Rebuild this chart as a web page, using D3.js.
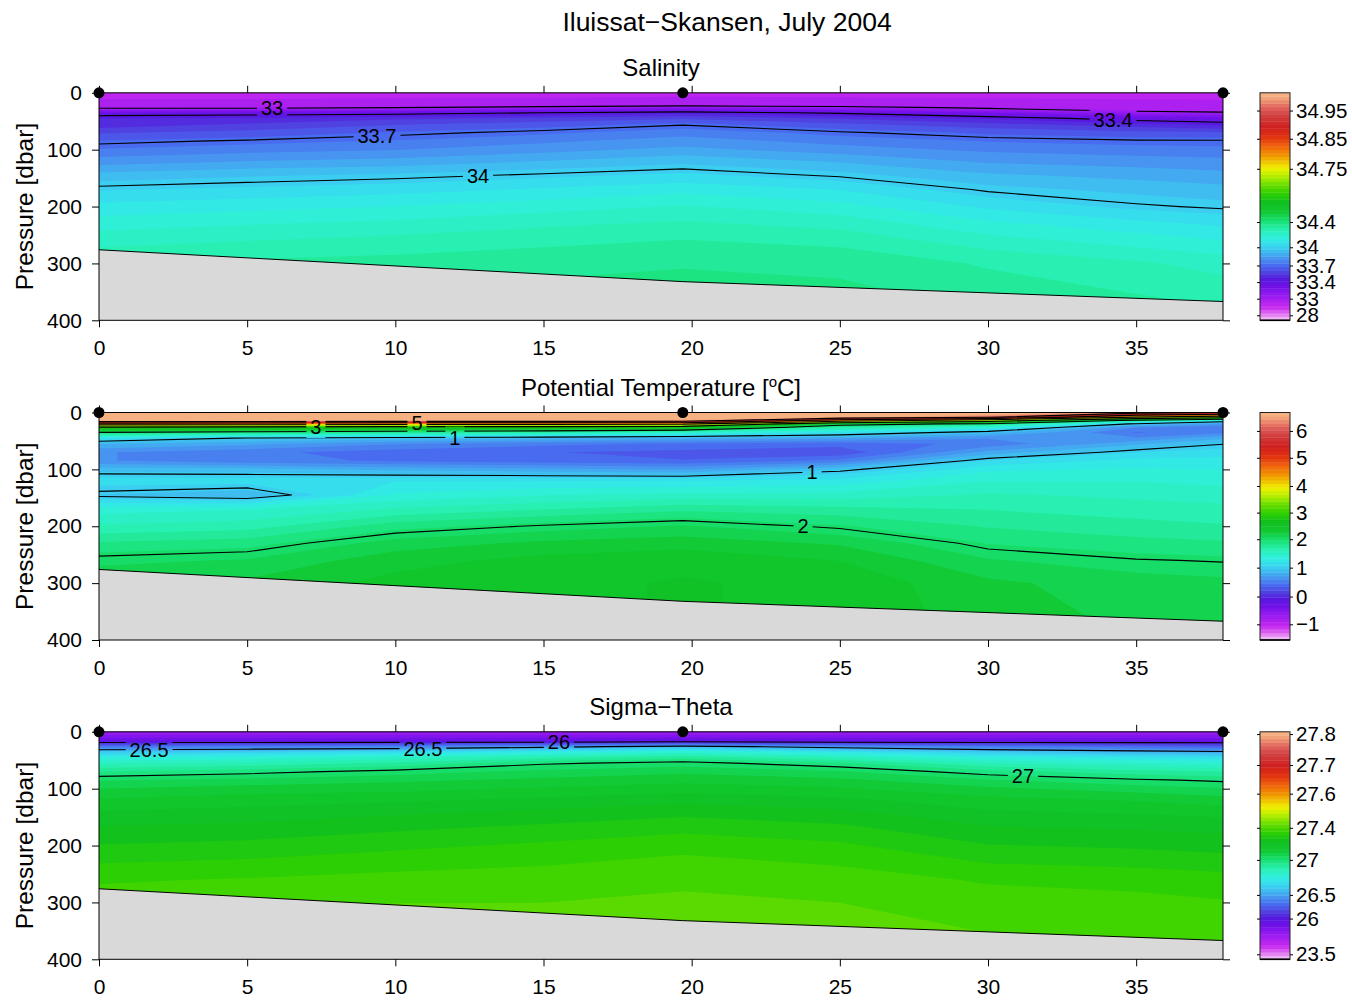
<!DOCTYPE html>
<html>
<head>
<meta charset="utf-8">
<script src="https://cdn.jsdelivr.net/npm/d3@7"></script>
<style>
  body { margin: 0; background: #fff; }
  svg { display: block; }
  text { font-family: "Liberation Sans", Arial, Helvetica, sans-serif; fill: #000; }
</style>
</head>
<body>
<svg id="fig" width="1352" height="1001"></svg>
<script>
// ---------------------------------------------------------------------------
// Section geometry: along-track distance of each gridded profile (km),
// pressure levels of the grid (dbar), CTD stations and the sea floor.
// ---------------------------------------------------------------------------
const gridDistance = [0, 5, 10, 15, 19.7, 25, 30, 35, 37.93];
const gridPressure = [0, 8, 14, 20, 26, 35, 45, 55, 70, 85, 100, 120, 145, 170, 200, 230, 260, 300, 380];
const stationDistance = [0, 19.7, 37.93];
const bottomPressure = [276, 332, 367];

const distanceTicks = [0, 5, 10, 15, 20, 25, 30, 35];
const pressureTicks = [0, 100, 200, 300, 400];

// Salinity profiles, one per gridDistance entry, values at gridPressure
const salinity = [
  [31.5, 31.7, 32.0, 32.5, 32.95, 33.32, 33.48, 33.5, 33.6, 33.68, 33.74, 33.82, 33.93, 34.02, 34.1, 34.17, 34.23, 34.3, 34.35],
  [31.5, 31.7, 32.0, 32.5, 32.95, 33.33, 33.5, 33.55, 33.63, 33.71, 33.77, 33.85, 33.96, 34.04, 34.12, 34.19, 34.25, 34.32, 34.37],
  [31.5, 31.75, 32.1, 32.6, 33.0, 33.35, 33.53, 33.6, 33.68, 33.74, 33.79, 33.87, 33.98, 34.06, 34.14, 34.21, 34.27, 34.33, 34.37],
  [31.5, 31.8, 32.2, 32.75, 33.1, 33.4, 33.56, 33.64, 33.72, 33.78, 33.83, 33.91, 34.01, 34.09, 34.17, 34.24, 34.29, 34.35, 34.39],
  [31.5, 31.9, 32.35, 32.85, 33.15, 33.45, 33.6, 33.69, 33.77, 33.82, 33.87, 33.95, 34.04, 34.12, 34.2, 34.26, 34.31, 34.36, 34.39],
  [31.5, 31.85, 32.3, 32.8, 33.1, 33.38, 33.54, 33.62, 33.71, 33.77, 33.82, 33.9, 33.99, 34.08, 34.16, 34.23, 34.29, 34.35, 34.39],
  [31.5, 31.75, 32.05, 32.5, 32.95, 33.25, 33.47, 33.56, 33.66, 33.73, 33.78, 33.84, 33.92, 33.99, 34.07, 34.15, 34.22, 34.3, 34.36],
  [31.5, 31.7, 31.95, 32.3, 32.7, 33.12, 33.34, 33.5, 33.63, 33.71, 33.76, 33.82, 33.89, 33.95, 34.01, 34.1, 34.17, 34.26, 34.33],
  [31.5, 31.7, 31.9, 32.25, 32.6, 33.05, 33.3, 33.45, 33.62, 33.71, 33.75, 33.81, 33.87, 33.93, 33.99, 34.07, 34.14, 34.23, 34.31]
];

// Potential temperature profiles (degC)
const temperature = [
  [7.0, 6.95, 6.7, 4.5, 2.9, 2.0, 1.2, 0.85, 0.6, 0.6, 0.9, 1.15, 0.95, 1.4, 1.6, 1.85, 2.05, 2.2, 2.2],
  [7.0, 6.95, 6.7, 4.4, 2.8, 1.9, 0.98, 0.75, 0.5, 0.5, 0.88, 1.15, 0.85, 1.45, 1.65, 1.9, 2.1, 2.25, 2.25],
  [7.0, 6.95, 6.6, 4.3, 2.7, 1.8, 0.9, 0.6, 0.4, 0.45, 0.8, 1.2, 1.35, 1.6, 1.9, 2.15, 2.3, 2.4, 2.4],
  [7.0, 6.95, 6.6, 4.3, 2.7, 1.7, 0.85, 0.5, 0.35, 0.4, 0.75, 1.2, 1.45, 1.7, 2.02, 2.25, 2.4, 2.45, 2.45],
  [7.0, 6.95, 6.5, 4.2, 2.6, 1.5, 0.8, 0.45, 0.3, 0.35, 0.7, 1.2, 1.5, 1.8, 2.1, 2.3, 2.45, 2.5, 2.5],
  [7.0, 6.7, 4.5, 2.2, 1.7, 1.2, 0.75, 0.4, 0.25, 0.5, 0.95, 1.25, 1.5, 1.75, 1.97, 2.2, 2.35, 2.45, 2.45],
  [6.9, 6.2, 3.5, 1.9, 1.4, 0.9, 0.6, 0.5, 0.75, 1.1, 1.3, 1.45, 1.6, 1.7, 1.82, 1.95, 2.1, 2.25, 2.3],
  [6.3, 4.0, 1.8, 0.95, 0.6, 0.45, 0.6, 0.8, 1.08, 1.25, 1.35, 1.45, 1.55, 1.65, 1.75, 1.88, 2.01, 2.15, 2.2],
  [6.0, 3.5, 1.2, 0.7, 0.5, 0.55, 0.8, 0.99, 1.15, 1.25, 1.33, 1.42, 1.52, 1.62, 1.72, 1.85, 1.99, 2.12, 2.18]
];

// Potential density anomaly profiles (kg m^-3)
const sigmaTheta = [
  [25.0, 25.2, 25.6, 26.1, 26.35, 26.6, 26.75, 26.84, 26.95, 27.04, 27.09, 27.14, 27.19, 27.23, 27.27, 27.31, 27.35, 27.38, 27.4],
  [25.0, 25.2, 25.6, 26.1, 26.37, 26.62, 26.77, 26.86, 26.98, 27.06, 27.11, 27.16, 27.2, 27.24, 27.28, 27.32, 27.36, 27.39, 27.41],
  [25.0, 25.2, 25.6, 26.12, 26.4, 26.66, 26.82, 26.91, 27.02, 27.08, 27.12, 27.17, 27.22, 27.26, 27.3, 27.34, 27.37, 27.4, 27.41],
  [25.0, 25.2, 25.65, 26.15, 26.46, 26.72, 26.88, 26.99, 27.06, 27.1, 27.14, 27.19, 27.24, 27.28, 27.32, 27.35, 27.38, 27.4, 27.42],
  [25.0, 25.2, 25.7, 26.2, 26.55, 26.78, 26.93, 27.02, 27.08, 27.12, 27.16, 27.21, 27.26, 27.3, 27.34, 27.37, 27.39, 27.41, 27.42],
  [25.0, 25.2, 25.65, 26.15, 26.44, 26.7, 26.85, 26.96, 27.05, 27.1, 27.14, 27.19, 27.24, 27.28, 27.32, 27.35, 27.38, 27.4, 27.42],
  [25.0, 25.2, 25.6, 26.1, 26.36, 26.6, 26.75, 26.85, 26.97, 27.05, 27.1, 27.15, 27.19, 27.23, 27.27, 27.31, 27.35, 27.38, 27.41],
  [25.0, 25.2, 25.6, 26.08, 26.3, 26.54, 26.7, 26.8, 26.92, 27.01, 27.07, 27.13, 27.18, 27.22, 27.26, 27.3, 27.34, 27.37, 27.4],
  [25.0, 25.2, 25.55, 26.05, 26.27, 26.51, 26.68, 26.78, 26.9, 26.99, 27.05, 27.11, 27.17, 27.21, 27.25, 27.29, 27.33, 27.36, 27.39]
];

// Colour-bar tick labels
const salinityTicks = [28, 33, 33.4, 33.7, 34, 34.4, 34.75, 34.85, 34.95];
const temperatureTicks = [-1, 0, 1, 2, 3, 4, 5, 6];
const sigmaTicks = [23.5, 26, 26.5, 27, 27.4, 27.6, 27.7, 27.8];

// Stretched colour axes: field value -> fraction of the way up the colour bar
const salinityColourValues   = [27.5, 28, 33, 33.4, 33.7, 34, 34.4, 34.75, 34.85, 34.95, 35.01];
const salinityColourFraction = [0, 0.022, 0.095, 0.168, 0.241, 0.321, 0.432, 0.666, 0.798, 0.922, 1];
const temperatureColourValues   = [-1.57, -1, 0, 1, 2, 3, 4, 5, 6, 6.69];
const temperatureColourFraction = [0, 0.069, 0.191, 0.318, 0.443, 0.56, 0.677, 0.801, 0.919, 1];
const sigmaColourValues   = [23.3, 23.5, 26, 26.5, 27, 27.4, 27.6, 27.7, 27.8, 27.81];
const sigmaColourFraction = [0, 0.022, 0.179, 0.283, 0.437, 0.578, 0.728, 0.854, 0.99, 1];

// Black isolines
const salinityLines = [33, 33.4, 33.7, 34];
const temperatureLines = [1, 2, 3, 4, 5, 6];
const sigmaLines = [26, 26.5, 27];

// Inline isoline labels: level, along-track km, approximate pressure of the line there
const salinityLabelSpots = [
  { level: 33, km: 5.84, near: 25 }, { level: 33.7, km: 9.38, near: 75 },
  { level: 34, km: 12.79, near: 148 }, { level: 33.4, km: 34.22, near: 48 }
];
const temperatureLabelSpots = [
  { level: 3, km: 7.32, near: 25 }, { level: 5, km: 10.73, near: 18 },
  { level: 1, km: 12.01, near: 42 }, { level: 1, km: 24.06, near: 107 },
  { level: 2, km: 23.76, near: 200 }
];
const sigmaLabelSpots = [
  { level: 26.5, km: 1.69, near: 30 }, { level: 26.5, km: 10.93, near: 28 },
  { level: 26, km: 15.52, near: 18 }, { level: 27, km: 31.18, near: 78 }
];

// Rainbow colour map (fraction along the bar -> colour)
const colourStops = [
  [0, "#f4d0f8"], [0.03, "#e070f0"], [0.06, "#c828f0"], [0.09, "#a820f0"], [0.12, "#9018f0"],
  [0.15, "#7010e8"], [0.18, "#5818e0"], [0.21, "#5040e0"], [0.24, "#4868f0"], [0.27, "#4890f0"],
  [0.30, "#40b8f0"], [0.33, "#38d8f0"], [0.36, "#30f0e0"], [0.40, "#28f0b0"], [0.44, "#18e070"],
  [0.48, "#10c830"], [0.52, "#10c020"], [0.56, "#30d000"], [0.60, "#70e000"], [0.64, "#c0f000"],
  [0.67, "#f0f000"], [0.70, "#f0c000"], [0.73, "#f09000"], [0.77, "#f06010"], [0.81, "#e03010"],
  [0.85, "#d02020"], [0.89, "#d03838"], [0.92, "#d85050"], [0.95, "#e87868"], [0.975, "#f0a078"],
  [1, "#f8b888"]
];

// ---------------------------------------------------------------------------
const W = 1352, H = 1001;
const plotLeft = 99, plotRight = 1223, plotH = 227.5;
const panelTop = [92.8, 412.5, 731.8];
const barLeft = 1260, barWidth = 30;
const N_BANDS = 64;
const FONT = '"Liberation Sans", Arial, Helvetica, sans-serif';

const svg = d3.select("#fig");
const defs = svg.append("defs");

const x = d3.scaleLinear()
  .domain([0, stationDistance[stationDistance.length - 1]])
  .range([plotLeft, plotRight]);
const colToKm = d3.scaleLinear().domain(d3.range(gridDistance.length)).range(gridDistance);
const rowToDbar = d3.scaleLinear().domain(d3.range(gridPressure.length)).range(gridPressure);
const colour = d3.scaleLinear()
  .domain(colourStops.map(d => d[0]))
  .range(colourStops.map(d => d[1]))
  .interpolate(d3.interpolateRgb)
  .clamp(true);

const panels = [
  { title: "Salinity", columns: salinity, ticks: salinityTicks,
    cv: salinityColourValues, cf: salinityColourFraction,
    lines: salinityLines, labels: salinityLabelSpots },
  { title: "Potential Temperature", columns: temperature, ticks: temperatureTicks,
    cv: temperatureColourValues, cf: temperatureColourFraction,
    lines: temperatureLines, labels: temperatureLabelSpots },
  { title: "Sigma\u2212Theta", columns: sigmaTheta, ticks: sigmaTicks,
    cv: sigmaColourValues, cf: sigmaColourFraction,
    lines: sigmaLines, labels: sigmaLabelSpots }
];

const fmt = v => String(v).replace("-", "\u2212");
const r1 = v => Math.round(v * 10) / 10;

// Split the closed rings returned by d3.contours into open isolines,
// dropping the pieces that run along the edge of the grid.
function isolines(values, n, m, level, toPx) {
  const c = d3.contours().size([n, m]).thresholds([level])(values)[0];
  const out = [];
  c.coordinates.forEach(poly => poly.forEach(ring => {
    const pts = ring.map(toPx);
    let cur = [];
    for (let k = 0; k < pts.length - 1; k++) {
      const a = pts[k], b = pts[k + 1];
      const onEdge = (a[2] === 0 && b[2] === 0) || (a[2] === n - 1 && b[2] === n - 1) ||
                     (a[3] === 0 && b[3] === 0) || (a[3] === m - 1 && b[3] === m - 1);
      if (onEdge) {
        if (cur.length > 1) out.push(cur);
        cur = [];
      } else {
        if (!cur.length) cur.push([a[0], a[1]]);
        cur.push([b[0], b[1]]);
      }
    }
    if (cur.length > 1) out.push(cur);
  }));
  return out;
}

function yOnLines(polylines, px0, py0) {
  let best = null;
  polylines.forEach(pl => {
    for (let k = 0; k < pl.length - 1; k++) {
      const a = pl[k], b = pl[k + 1];
      if (a[0] === b[0]) continue;
      if ((a[0] - px0) * (b[0] - px0) <= 0) {
        const t = (px0 - a[0]) / (b[0] - a[0]);
        const yy = a[1] + t * (b[1] - a[1]);
        if (best === null || Math.abs(yy - py0) < Math.abs(best - py0)) best = yy;
      }
    }
  });
  return best === null ? py0 : best;
}

panels.forEach((cfg, idx) => {
  const top = panelTop[idx];
  const y = d3.scaleLinear().domain([0, 400]).range([top, top + plotH]);
  const n = gridDistance.length, m = gridPressure.length;
  const values = new Array(n * m);
  for (let j = 0; j < m; j++) for (let i = 0; i < n; i++) values[j * n + i] = cfg.columns[i][j];

  const toFrac = d3.scaleLinear().domain(cfg.cv).range(cfg.cf).clamp(true);

  // grid-contour coordinates -> pixel coordinates (plus grid indices for edge tests)
  const toPx = ([cx, cy]) => {
    const gi = Math.max(0, Math.min(n - 1, cx - 0.5));
    const gj = Math.max(0, Math.min(m - 1, cy - 0.5));
    return [r1(x(colToKm(gi))), r1(y(rowToDbar(gj))), gi, gj];
  };

  const clipId = "plotclip" + idx;
  defs.append("clipPath").attr("id", clipId).append("rect")
    .attr("x", plotLeft).attr("y", top).attr("width", plotRight - plotLeft).attr("height", plotH);

  const g = svg.append("g");

  // ---- filled colour bands
  const fills = g.append("g").attr("clip-path", `url(#${clipId})`);
  fills.append("rect")
    .attr("x", plotLeft).attr("y", top).attr("width", plotRight - plotLeft).attr("height", plotH)
    .attr("fill", colour(0.5 / N_BANDS));
  const thresholds = d3.range(1, N_BANDS).map(k => toFrac.invert(k / N_BANDS));
  const bands = d3.contours().size([n, m]).thresholds(thresholds)(values);
  bands.forEach((b, k) => {
    const d = b.coordinates.map(poly => poly.map(ring =>
      "M" + ring.map(p => { const q = toPx(p); return q[0] + "," + q[1]; }).join("L") + "Z"
    ).join("")).join("");
    if (d) fills.append("path").attr("d", d)
      .attr("fill", colour((k + 1.5) / N_BANDS))
      .attr("fill-rule", "evenodd");
  });

  // ---- isolines (with gaps under the labels via a mask)
  const maskId = "labelgap" + idx;
  const mask = defs.append("mask").attr("id", maskId).attr("maskUnits", "userSpaceOnUse")
    .attr("x", 0).attr("y", 0).attr("width", W).attr("height", H);
  mask.append("rect").attr("x", 0).attr("y", 0).attr("width", W).attr("height", H).attr("fill", "#fff");

  const lineG = g.append("g").attr("clip-path", `url(#${clipId})`).attr("mask", `url(#${maskId})`);
  const linesByLevel = new Map();
  cfg.lines.forEach(level => {
    const pls = isolines(values, n, m, level, toPx);
    linesByLevel.set(level, pls);
    pls.forEach(pl => lineG.append("path")
      .attr("d", "M" + pl.map(p => p.join(",")).join("L"))
      .attr("fill", "none").attr("stroke", "#000").attr("stroke-width", 1.1)
      .attr("stroke-linejoin", "round"));
  });

  // ---- sea floor
  const floor = stationDistance.map((dk, i) => [x(dk), y(bottomPressure[i])]);
  g.append("path")
    .attr("d", "M" + floor.map(p => p.join(",")).join("L") +
      `L${x(stationDistance[stationDistance.length - 1])},${y(400)}L${x(0)},${y(400)}Z`)
    .attr("fill", "#d9d9d9");
  g.append("path").attr("d", d3.line()(floor))
    .attr("fill", "none").attr("stroke", "#000").attr("stroke-width", 1);

  // ---- isoline labels
  const labG = g.append("g");
  cfg.labels.forEach(s => {
    const px0 = x(s.km);
    const py = yOnLines(linesByLevel.get(s.level) || [], px0, y(s.near));
    const t = labG.append("text")
      .attr("x", px0).attr("y", py).attr("dy", "0.36em")
      .attr("text-anchor", "middle").attr("font-size", 20)
      .text(fmt(s.level));
    const bb = t.node().getBBox();
    mask.append("rect").attr("x", bb.x - 4).attr("y", bb.y).attr("width", bb.width + 8)
      .attr("height", bb.height).attr("fill", "#000");
  });

  // ---- frame and axes
  g.append("rect")
    .attr("x", plotLeft).attr("y", top).attr("width", plotRight - plotLeft).attr("height", plotH)
    .attr("fill", "none").attr("stroke", "#000").attr("stroke-width", 1);

  const styleAxis = (sel, size) => {
    sel.attr("font-family", FONT).attr("font-size", size || 21);
    sel.select(".domain").remove();
    sel.selectAll(".tick line").attr("stroke", "#000");
    sel.selectAll(".tick text").attr("fill", "#000");
  };
  g.append("g").attr("transform", `translate(0,${top + plotH})`)
    .call(d3.axisBottom(x).tickValues(distanceTicks).tickFormat(fmt).tickSize(7).tickPadding(13))
    .call(styleAxis);
  g.append("g").attr("transform", `translate(0,${top})`)
    .call(d3.axisTop(x).tickValues(distanceTicks).tickFormat(() => "").tickSize(7))
    .call(styleAxis);
  g.append("g").attr("transform", `translate(${plotLeft},0)`)
    .call(d3.axisLeft(y).tickValues(pressureTicks).tickFormat(fmt).tickSize(7).tickPadding(10))
    .call(styleAxis);
  g.append("g").attr("transform", `translate(${plotRight},0)`)
    .call(d3.axisRight(y).tickValues(pressureTicks).tickFormat(() => "").tickSize(7))
    .call(styleAxis);

  // ---- station markers
  g.selectAll("circle.station").data(stationDistance).join("circle")
    .attr("class", "station")
    .attr("cx", d => x(d)).attr("cy", top).attr("r", 5.5).attr("fill", "#000");

  // ---- y label
  g.append("text")
    .attr("transform", `translate(33,${top + plotH / 2}) rotate(-90)`)
    .attr("text-anchor", "middle").attr("font-size", 24.5)
    .text("Pressure [dbar]");

  // ---- colour bar
  const fracToY = d3.scaleLinear().domain([0, 1]).range([top + plotH, top]);
  const bar = g.append("g");
  d3.range(N_BANDS).forEach(k => {
    bar.append("rect")
      .attr("x", barLeft).attr("width", barWidth)
      .attr("y", fracToY((k + 1) / N_BANDS)).attr("height", plotH / N_BANDS + 0.4)
      .attr("fill", colour((k + 0.5) / N_BANDS));
  });
  bar.append("rect")
    .attr("x", barLeft).attr("y", top).attr("width", barWidth).attr("height", plotH)
    .attr("fill", "none").attr("stroke", "#222").attr("stroke-width", 1);
  bar.append("line")
    .attr("x1", barLeft).attr("x2", barLeft + barWidth)
    .attr("y1", top + plotH).attr("y2", top + plotH)
    .attr("stroke", "#000").attr("stroke-width", 1.6);
  const barScale = d3.scaleLinear().domain(cfg.cv).range(cfg.cf.map(f => fracToY(f)));
  bar.append("g").attr("transform", `translate(${barLeft + barWidth},0)`)
    .call(d3.axisRight(barScale).tickValues(cfg.ticks).tickFormat(fmt).tickSize(3).tickPadding(3))
    .call(styleAxis, 20.5);
  bar.append("g").attr("transform", `translate(${barLeft},0)`)
    .call(d3.axisLeft(barScale).tickValues(cfg.ticks).tickFormat(() => "").tickSize(3))
    .call(styleAxis);

  // ---- panel title
  const tt = g.append("text")
    .attr("x", (plotLeft + plotRight) / 2).attr("y", top - 17)
    .attr("text-anchor", "middle").attr("font-size", 24);
  if (idx === 1) {
    tt.append("tspan").text(cfg.title + " [");
    tt.append("tspan").attr("dy", -9).attr("font-size", 15).text("o");
    tt.append("tspan").attr("dy", 9).text("C]");
  } else {
    tt.text(cfg.title);
  }
});

// ---- figure title
svg.append("text")
  .attr("x", 727).attr("y", 30.5)
  .attr("text-anchor", "middle").attr("font-size", 26.5)
  .text("Iluissat\u2212Skansen, July 2004");
</script>
</body>
</html>
